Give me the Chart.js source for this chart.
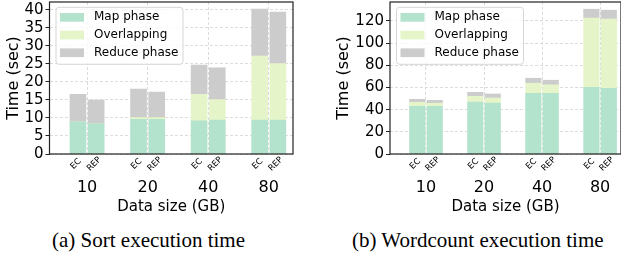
<!DOCTYPE html>
<html>
<head>
<meta charset="utf-8">
<script src="https://cdn.jsdelivr.net/npm/chart.js@4.4.1/dist/chart.umd.min.js"></script>
<style>
  body { margin: 0; background: #fff; width: 621px; height: 257px; position: relative; overflow: hidden; }
  canvas { position: absolute; top: 0; }
  #sortChart { left: 0; }
  #wcChart { left: 310px; }
  .cap { position: absolute; top: 230px; font-family: "Liberation Serif", serif; font-size: 21px; line-height: 21px; color: #000; white-space: nowrap; }
</style>
</head>
<body>
<canvas id="sortChart" width="310" height="218"></canvas>
<canvas id="wcChart" width="311" height="218"></canvas>
<div class="cap" style="left:52px">(a) Sort execution time</div>
<div class="cap" style="left:352px">(b) Wordcount execution time</div>
<script>
const groupLabels = ["10", "20", "40", "80"];
const subLabels = ["EC", "REP"];
const seriesNames = ["Map phase", "Overlapping", "Reduce phase"];
const seriesColors = ["#b3e2cd", "#e6f5c9", "#cccccc"];

// Sort execution time (sec), one value per data size
const sortMapEC = [8.9, 9.6, 9.2, 9.4];
const sortOverlapEC = [0, 0.5, 7.4, 17.8];
const sortReduceEC = [7.7, 7.9, 8.1, 13.0];
const sortMapREP = [8.4, 9.6, 9.4, 9.4];
const sortOverlapREP = [0, 0.5, 5.7, 15.7];
const sortReduceREP = [6.6, 7.1, 8.8, 14.3];
const sortTicks = [0, 5, 10, 15, 20, 25, 30, 35, 40];

// Wordcount execution time (sec)
const wcMapEC = [43.0, 46.9, 54.7, 60.2];
const wcOverlapEC = [3.6, 5.1, 9.1, 62.2];
const wcReduceEC = [2.7, 3.6, 4.5, 8.1];
const wcMapREP = [43.0, 46.0, 54.7, 59.2];
const wcOverlapREP = [2.7, 4.5, 7.6, 62.3];
const wcReduceREP = [2.7, 3.6, 4.2, 8.1];
const wcTicks = [0, 20, 40, 60, 80, 100, 120];

const FONT = "DejaVu Sans";
const SUB = 0.15; // EC / REP offset from the group tick

function points(ecVals, repVals) {
  const out = [];
  groupLabels.forEach((g, i) => {
    out.push({ x: i - SUB, y: ecVals[i] });
    out.push({ x: i + SUB, y: repVals[i] });
  });
  return out;
}

/* -------------------------------
   frame, legend box, EC/REP labels
--------------------------------*/
const frameAndLegend = {
  id: "frameAndLegend",
  afterDatasetsDraw(chart) {
    const { ctx, chartArea: a } = chart;
    ctx.save();
    ctx.strokeStyle = "#222";
    ctx.lineWidth = 1.2;
    ctx.strokeRect(a.left, a.top, a.right - a.left, a.bottom - a.top);
    ctx.restore();
  },
  afterDraw(chart) {
    const { ctx, chartArea: a } = chart;
    const x = a.left + 6.5, y = a.top + 5.3, w = 127, h = 57;
    ctx.save();
    ctx.beginPath();
    ctx.roundRect(x, y, w, h, 3);
    ctx.fillStyle = "rgba(255,255,255,0.8)";
    ctx.fill();
    ctx.strokeStyle = "#d6d6d6";
    ctx.lineWidth = 1;
    ctx.stroke();
    ctx.font = "12px '" + FONT + "'";
    ctx.textBaseline = "middle";
    chart.data.datasets.forEach((ds, i) => {
      const cy = y + 10 + i * 17.7;
      ctx.fillStyle = ds.backgroundColor;
      ctx.fillRect(x + 4, cy - 4.3, 24, 8.7);
      ctx.fillStyle = "#000";
      ctx.fillText(ds.label, x + 38, cy);
    });
    ctx.restore();

    // rotated EC / REP under each bar, placed by the xs scale
    const s = chart.scales.xs;
    ctx.save();
    ctx.font = "8.5px '" + FONT + "'";
    ctx.fillStyle = "#000";
    ctx.textAlign = "center";
    ctx.textBaseline = "middle";
    s.ticks.forEach((t, i) => {
      ctx.save();
      ctx.translate(s.getPixelForValue(t.value) - 2, s.top + 10);
      ctx.rotate(-Math.PI / 4);
      ctx.fillText(subLabels[i % 2], 0, 0);
      ctx.restore();
    });
    ctx.restore();
  }
};

function makeChart(id, series, yTicks, yMax, cfg) {
  const datasets = series.map((s, k) => ({
    label: seriesNames[k],
    data: points(s[0], s[1]),
    backgroundColor: seriesColors[k],
    borderWidth: 0,
    barThickness: cfg.barW
  }));

  const noPad = s => { s.paddingLeft = 0; s.paddingRight = 0; s.paddingTop = 0; s.paddingBottom = 0; };

  return new Chart(document.getElementById(id), {
    type: "bar",
    data: { datasets },
    plugins: [frameAndLegend],
    options: {
      responsive: false,
      animation: false,
      devicePixelRatio: 1,
      layout: { padding: { top: 2, right: cfg.rightPad, left: 0, bottom: 0 } },
      plugins: { legend: { display: false }, tooltip: { enabled: false } },
      scales: {
        x: {
          type: "linear", position: "bottom", stacked: true, weight: 1, offset: false,
          min: -0.62, max: cfg.xMax,
          afterBuildTicks: s => { s.ticks = groupLabels.map((g, i) => ({ value: i })); },
          afterFit: s => { s.height = 42; noPad(s); },
          ticks: {
            callback: (v, i) => groupLabels[i],
            font: { family: FONT, size: 16 }, color: "#000",
            padding: 2, autoSkip: false, minRotation: 0, maxRotation: 0
          },
          grid: { color: "#d3d3d3", lineWidth: 0.8, drawTicks: false, offset: false },
          border: { display: false, dash: [3, 2] },
          title: {
            display: true, text: "Data size (GB)", color: "#000",
            font: { family: FONT, size: 15 }, padding: { top: 0, bottom: 1.5 }
          }
        },
        xs: {
          type: "linear", position: "bottom", weight: 0, offset: false,
          min: -0.62, max: cfg.xMax,
          afterBuildTicks: s => { s.ticks = groupLabels.flatMap((g, i) => [{ value: i - SUB }, { value: i + SUB }]); },
          afterFit: s => { s.height = 22; noPad(s); },
          ticks: { display: false },
          grid: { display: false, offset: false },
          border: { display: false }
        },
        y: {
          stacked: true, min: 0, max: yMax,
          afterBuildTicks: s => { s.ticks = yTicks.map(v => ({ value: v })); },
          afterFit: s => { s.width = cfg.yW; noPad(s); },
          ticks: { font: { family: FONT, size: 15 }, color: "#000", padding: 2, autoSkip: false },
          grid: { color: "#d3d3d3", lineWidth: 0.8, tickLength: 4, tickColor: "#222", tickWidth: 1, tickBorderDash: [] },
          border: { display: false, dash: [3, 2] },
          title: {
            display: true, text: "Time (sec)", color: "#000",
            font: { family: FONT, size: 16 }, padding: { top: cfg.titlePad, bottom: 0 }
          }
        }
      }
    }
  });
}

window.addEventListener("DOMContentLoaded", () => {
  makeChart("sortChart",
    [[sortMapEC, sortMapREP], [sortOverlapEC, sortOverlapREP], [sortReduceEC, sortReduceREP]],
    sortTicks, 42.2,
    { yW: 49.5, rightPad: 17, xMax: 3.4, barW: 16, titlePad: 4 });

  makeChart("wcChart",
    [[wcMapEC, wcMapREP], [wcOverlapEC, wcOverlapREP], [wcReduceEC, wcReduceREP]],
    wcTicks, 137,
    { yW: 80, rightPad: 0, xMax: 3.36, barW: 15.5, titlePad: 24 });
});
</script>
</body>
</html>
